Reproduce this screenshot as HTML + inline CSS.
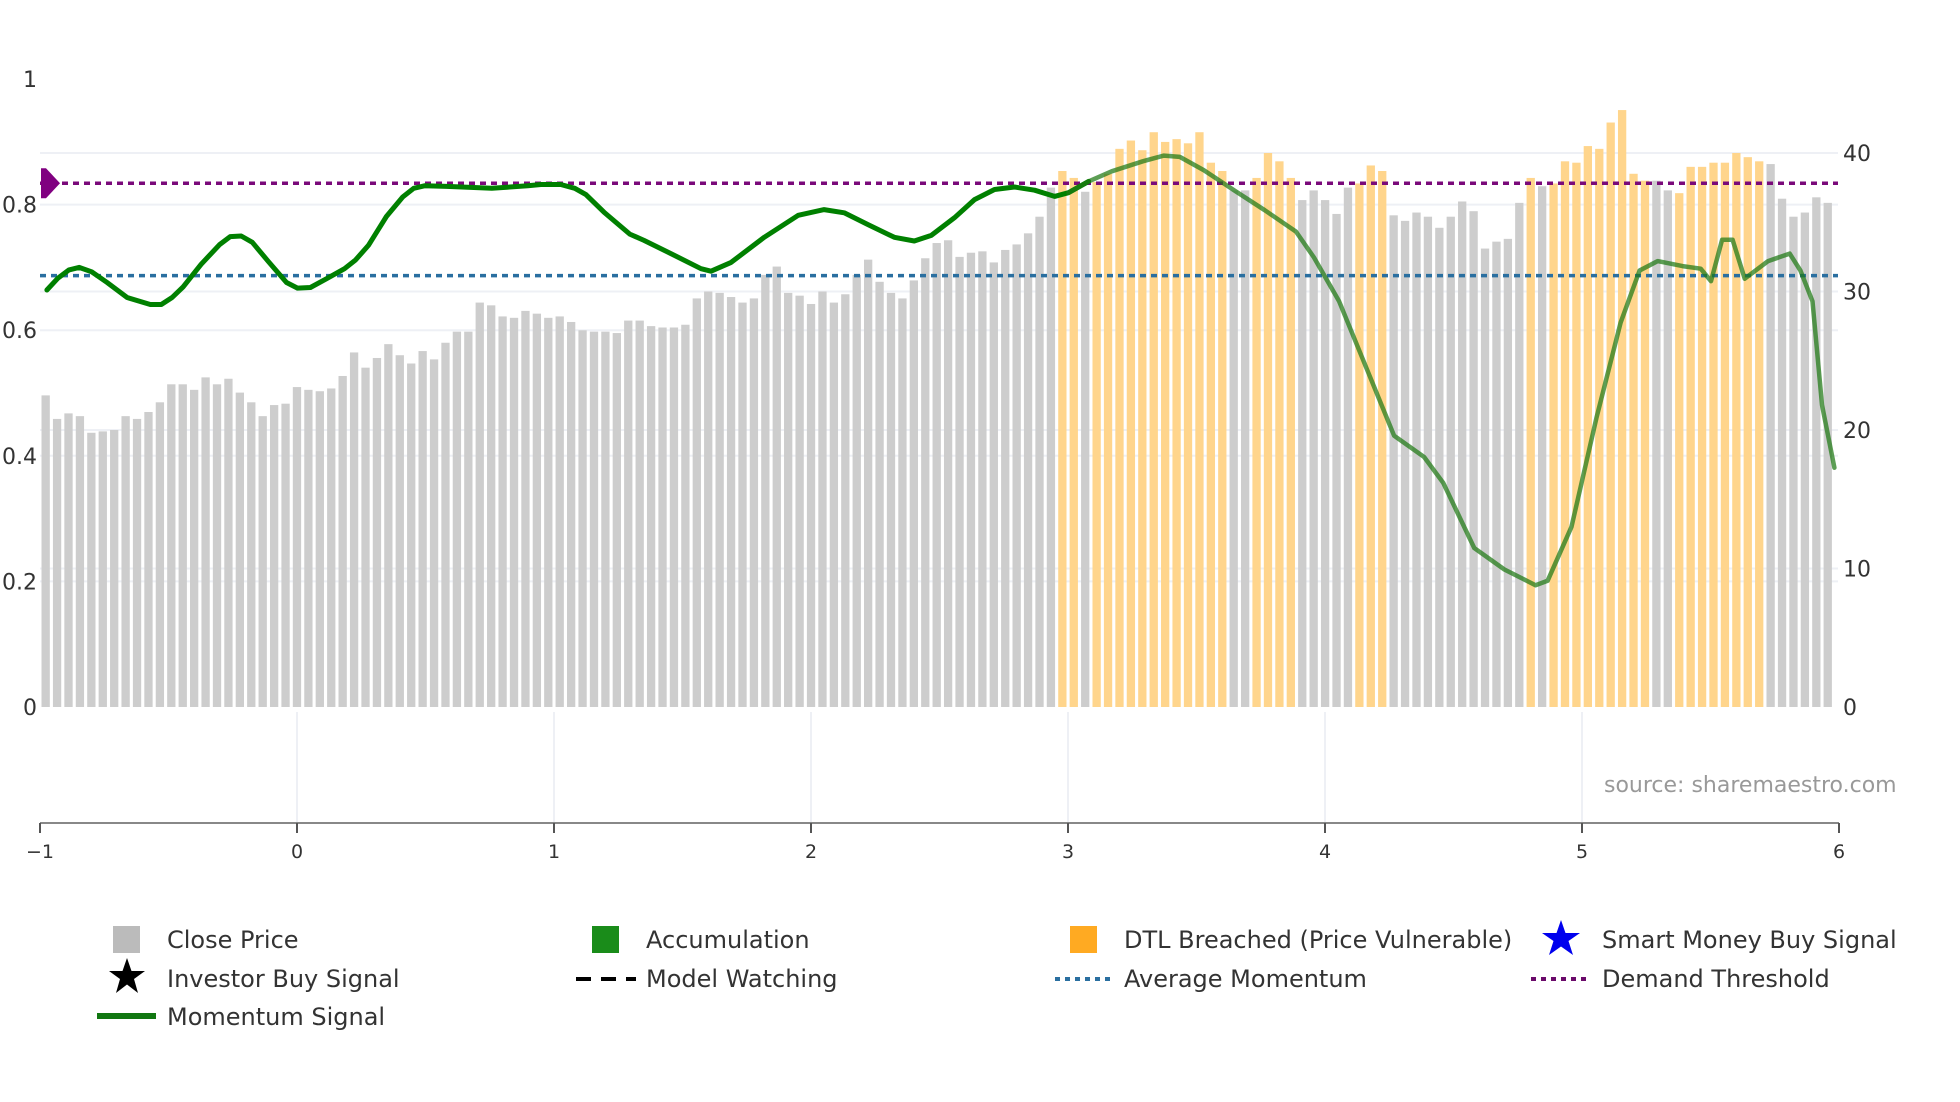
<!DOCTYPE html>
<html><head><meta charset="utf-8">
<style>
html,body{margin:0;padding:0;background:#fff;}
svg{display:block;font-family:"DejaVu Sans","Liberation Sans",sans-serif;}
</style></head>
<body>
<svg id="chart" width="1960" height="1102" viewBox="0 0 1960 1102" xmlns="http://www.w3.org/2000/svg">
<g id="grid"></g>
<g id="bars"></g>
<g id="refs"></g>
<g id="lines"></g>
<g id="axes"></g>
<text x="1604" y="792" font-size="22" fill="#999">source: sharemaestro.com</text>
<g id="legend">
  <rect x="113" y="926" width="27" height="27" fill="#bbbbbb"/>
  <text x="167" y="948" font-size="24" fill="#333">Close Price</text>
  <polygon fill="#000" points="127,958 131.5,971 145,971 134,979 138,993 127,984.5 116,993 120,979 109,971 122.5,971"/>
  <text x="167" y="987" font-size="24" fill="#333">Investor Buy Signal</text>
  <line x1="97" y1="1016" x2="156" y2="1016" stroke="#117711" stroke-width="6"/>
  <text x="167" y="1025" font-size="24" fill="#333">Momentum Signal</text>

  <rect x="592" y="926" width="27" height="27" fill="#1a8c1a"/>
  <text x="646" y="948" font-size="24" fill="#333">Accumulation</text>
  <line x1="576" y1="979" x2="636" y2="979" stroke="#000" stroke-width="4" stroke-dasharray="15,10"/>
  <text x="646" y="987" font-size="24" fill="#333">Model Watching</text>

  <rect x="1070" y="926" width="27" height="27" fill="#ffaa22"/>
  <text x="1124" y="948" font-size="24" fill="#333">DTL Breached (Price Vulnerable)</text>
  <line x1="1055" y1="979" x2="1115" y2="979" stroke="#2a6fa0" stroke-width="4" stroke-dasharray="5,5"/>
  <text x="1124" y="987" font-size="24" fill="#333">Average Momentum</text>

  <polygon fill="#0000ee" points="1561,920 1565.5,933 1580,933 1568.5,941 1573,955 1561,946.5 1549,955 1553.5,941 1542,933 1556.5,933"/>
  <text x="1602" y="948" font-size="24" fill="#333">Smart Money Buy Signal</text>
  <line x1="1531" y1="979" x2="1587" y2="979" stroke="#6a0a6a" stroke-width="4" stroke-dasharray="5,5"/>
  <text x="1602" y="987" font-size="24" fill="#333">Demand Threshold</text>
</g>
</svg>
<script>
const priceValues = [22.5,20.8,21.2,21.0,19.8,19.9,20.0,21.0,20.8,21.3,22.0,23.3,23.3,22.9,23.8,23.3,23.7,22.7,22.0,21.0,21.8,21.9,23.1,22.9,22.8,23.0,23.9,25.6,24.5,25.2,26.2,25.4,24.8,25.7,25.1,26.3,27.1,27.1,29.2,29.0,28.2,28.1,28.6,28.4,28.1,28.2,27.8,27.2,27.1,27.1,27.0,27.9,27.9,27.5,27.4,27.4,27.6,
29.5,30.0,29.9,29.6,29.2,29.5,31.2,31.8,29.9,29.7,29.1,30.0,29.2,29.8,31.2,32.3,30.7,29.9,29.5,30.8,32.4,33.5,33.7,32.5,32.8,32.9,32.1,33.0,33.4,34.2,35.4,37.5,
38.7,38.2,37.2,37.9,38.5,40.3,40.9,40.2,41.5,40.8,41.0,40.7,41.5,39.3,38.7,37.3,37.3,38.2,40.0,39.4,38.2,36.6,37.3,36.6,35.6,37.5,37.8,39.1,38.7,35.5,35.1,35.7,35.4,34.6,35.4,36.5,35.8,33.1,33.6,33.8,36.4,38.2,37.6,37.8,39.4,39.3,40.5,40.3,42.2,43.1,38.5,38.0,38.0,37.3,37.1,39.0,39.0,39.3,39.3,40.0,39.7,39.4,39.2,36.7,35.4,35.7,36.8,36.4];
const dtlBreached = [
0,0,0,0,0,0,0,0,0,0,0,0,0,0,0,0,0,0,0,0,0,0,0,0,0,0,0,0,0,0,0,0,0,0,0,0,0,0,0,0,0,0,0,0,0,0,0,0,0,0,0,0,0,0,0,0,0,
0,0,0,0,0,0,0,0,0,0,0,0,0,0,0,0,0,0,0,0,0,0,0,0,0,0,0,0,0,0,0,0,
1,1,0,1,1,1,1,1,1,1,1,1,1,1,1,0,0,1,1,1,1,0,0,0,0,0,1,1,1,0,0,0,0,0,0,0,0,0,0,0,0,1,0,1,1,1,1,1,1,1,1,1,0,0,1,1,1,1,1,1,1,1,0,0,0,0,0];
const momentumX = [-0.973,-0.930,-0.887,-0.848,-0.799,-0.739,-0.661,-0.571,-0.528,-0.486,-0.443,-0.373,-0.302,-0.260,-0.217,-0.174,-0.111,-0.041,0.002,0.052,0.115,0.185,0.228,0.278,0.348,0.411,0.454,0.496,0.582,0.758,0.898,0.949,1.026,1.081,1.124,1.194,1.295,1.350,1.455,1.572,1.611,1.689,1.818,1.950,2.051,2.129,2.223,2.324,2.402,2.468,2.558,2.636,2.714,2.792,2.870,2.948,3.002,3.080,3.170,3.291,3.373,3.435,3.528,3.649,3.766,3.887,3.957,4.055,4.172,4.269,4.386,4.460,4.581,4.698,4.819,4.866,4.959,5.056,5.150,5.224,5.294,5.391,5.462,5.502,5.545,5.586,5.633,5.724,5.808,5.850,5.897,5.934,5.982];
const momentumY = [0.664,0.683,0.696,0.700,0.693,0.676,0.652,0.641,0.641,0.652,0.669,0.705,0.736,0.749,0.750,0.740,0.709,0.676,0.667,0.668,0.682,0.698,0.712,0.735,0.781,0.812,0.826,0.830,0.829,0.826,0.830,0.832,0.832,0.826,0.816,0.788,0.753,0.743,0.722,0.698,0.694,0.708,0.748,0.783,0.792,0.787,0.768,0.748,0.742,0.751,0.779,0.808,0.824,0.828,0.823,0.813,0.819,0.837,0.853,0.869,0.878,0.876,0.855,0.822,0.791,0.757,0.716,0.646,0.529,0.432,0.398,0.357,0.253,0.219,0.194,0.201,0.287,0.460,0.612,0.695,0.710,0.702,0.698,0.678,0.744,0.744,0.682,0.710,0.722,0.695,0.646,0.481,0.381];
const demandThreshold = [0.834];
const averageMomentum = [0.687];
const xTicks = [-1,0,1,2,3,4,5,6];
const xTickLabels = ["\u22121","0","1","2","3","4","5","6"];
const leftTicks = [0,0.2,0.4,0.6,0.8,1];
const leftTickLabels = ["0","0.2","0.4","0.6","0.8","1"];
const rightTicks = [0,10,20,30,40];
const rightTickLabels = ["0","10","20","30","40"];

const NS="http://www.w3.org/2000/svg";
const X = v => 40 + (v + 1) * 257;
const YL = v => 707 - v * 628;
const YR = v => 707 - v * 13.85;
const barStart = -0.978, barStep = 0.04445, barW = 8.3;
function mk(tag, attrs, parent){const e=document.createElementNS(NS,tag);for(const k in attrs)e.setAttribute(k,attrs[k]);parent.appendChild(e);return e;}

const grid=document.getElementById('grid');
leftTicks.forEach((t,i)=>{ if(t===0||t===1) return;
  const g=mk('line',{x1:40,x2:1838,y1:YL(t),y2:YL(t),stroke:'#eef0f5','stroke-width':2},grid);
  
  
});
rightTicks.forEach(t=>{ if(t===0) return;
  const g=mk('line',{x1:40,x2:1838,y1:YR(t),y2:YR(t),stroke:'#eef0f5','stroke-width':2},grid);
  
  
});
xTicks.forEach(t=>{ if(t===-1||t===6) return;
  const g=mk('line',{x1:X(t),x2:X(t),y1:712,y2:823,stroke:'#eef0f5','stroke-width':2},grid);
  
  
});

const bars=document.getElementById('bars');
priceValues.forEach((v,i)=>{
  const cx=X(barStart+i*barStep);
  const r=mk('rect',{x:cx-barW/2,y:YR(v),width:barW,height:707-YR(v),fill:dtlBreached[i]?'#ffd58c':'#cdcdcd'},bars);
  
  
});

const refs=document.getElementById('refs');
const dl=mk('line',{x1:40,x2:1838,y1:YL(demandThreshold[0]),y2:YL(demandThreshold[0]),stroke:'#7a0a7a','stroke-width':3.5,'stroke-dasharray':'6,5'},refs);


const al=mk('line',{x1:40,x2:1838,y1:YL(averageMomentum[0]),y2:YL(averageMomentum[0]),stroke:'#2a6fa0','stroke-width':3.5,'stroke-dasharray':'6,5'},refs);


const dy=YL(demandThreshold[0]);
const dm=mk('polygon',{points:`41,${dy-15} 46,${dy-15} 60,${dy} 46,${dy+15} 41,${dy+15}`,fill:'#800080'},refs);



const lines=document.getElementById('lines');
let p1=[],p2=[];
momentumX.forEach((x,i)=>{const pt=X(x).toFixed(1)+','+YL(momentumY[i]).toFixed(1); if(x<=3.08)p1.push(pt); if(x>=3.0)p2.push(pt);});
const l1=mk('polyline',{points:p1.join(' '),fill:'none',stroke:'#008000','stroke-width':5,'stroke-linejoin':'round','stroke-linecap':'round'},lines);


const l2=mk('polyline',{points:p2.join(' '),fill:'none',stroke:'rgba(30,120,20,0.72)','stroke-width':4.5,'stroke-linejoin':'round','stroke-linecap':'round'},lines);



const axes=document.getElementById('axes');
const ax=mk('line',{x1:40,x2:1839,y1:823,y2:823,stroke:'#888','stroke-width':2},axes);


xTicks.forEach((t,i)=>{
  const tk=mk('line',{x1:X(t),x2:X(t),y1:823,y2:833,stroke:'#555','stroke-width':2},axes);
  
  
  const tx=mk('text',{x:X(t),y:858,'font-size':19,fill:'#333','text-anchor':'middle'},axes);
  tx.textContent=xTickLabels[i];
  
  
});
leftTicks.forEach((t,i)=>{
  const tx=mk('text',{x:37,y:YL(t)+8,'font-size':22,fill:'#333','text-anchor':'end'},axes);
  tx.textContent=leftTickLabels[i];
  
  
});
rightTicks.forEach((t,i)=>{
  const tx=mk('text',{x:1843,y:YR(t)+8,'font-size':22,fill:'#333','text-anchor':'start'},axes);
  tx.textContent=rightTickLabels[i];
  
  
});
</script>
</body></html>
